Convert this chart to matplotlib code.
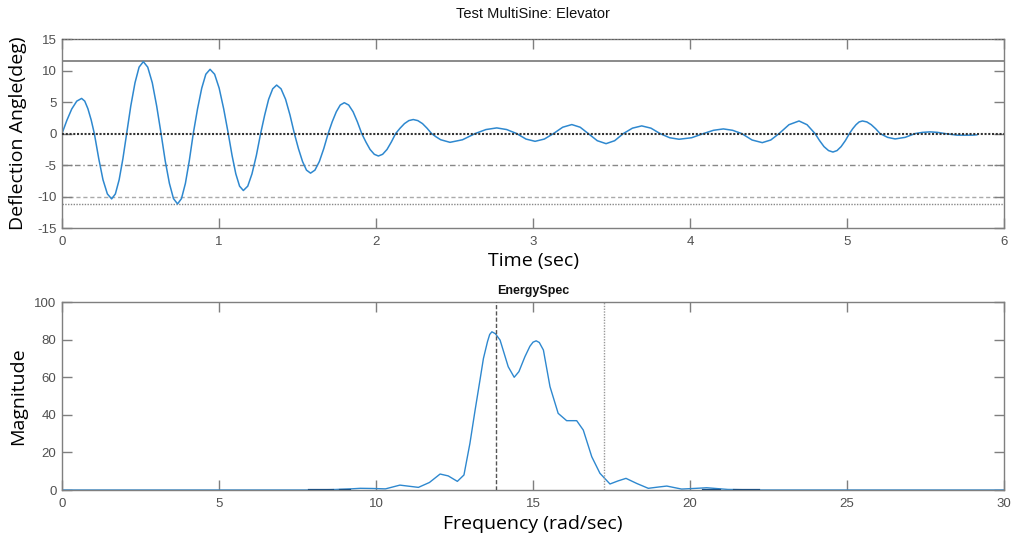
import matplotlib
matplotlib.use("Agg")
import matplotlib.pyplot as plt
import numpy as np

plt.rcParams['axes.unicode_minus'] = False

# ---- time signal (deg) ----
t_sig = [0.000, 0.031, 0.062, 0.094, 0.125, 0.145, 0.165, 0.186, 0.206,
         0.234, 0.261, 0.289, 0.316, 0.340, 0.364, 0.388, 0.412,
         0.438, 0.465, 0.491, 0.518, 0.546, 0.575, 0.603, 0.631,
         0.657, 0.684, 0.710, 0.736, 0.761, 0.786, 0.811, 0.836,
         0.863, 0.890, 0.916, 0.943, 0.972, 1.001, 1.030, 1.059,
         1.083, 1.107, 1.131, 1.155, 1.183, 1.210, 1.238, 1.265,
         1.291, 1.316, 1.342, 1.367, 1.395, 1.424, 1.452, 1.480,
         1.506, 1.532, 1.557, 1.583, 1.611, 1.639, 1.667, 1.695,
         1.721, 1.747, 1.772, 1.798, 1.826, 1.854, 1.881, 1.909,
         1.936, 1.962, 1.989, 2.015, 2.042, 2.070, 2.097, 2.125,
         2.153, 2.181, 2.209, 2.237, 2.266, 2.296, 2.325, 2.354,
         2.383, 2.412, 2.471, 2.551, 2.631,
         2.700, 2.769, 2.832, 2.896,
         2.955, 3.013, 3.072, 3.130,
         3.189, 3.247, 3.300, 3.352,
         3.409, 3.465, 3.520, 3.575,
         3.633, 3.692, 3.751, 3.809,
         3.870, 3.930, 4.010, 4.085,
         4.149, 4.212, 4.271, 4.329,
         4.395, 4.460, 4.514, 4.567,
         4.630, 4.694, 4.745, 4.796,
         4.825, 4.853, 4.882, 4.910, 4.936, 4.962, 4.989, 5.015,
         5.036, 5.057, 5.077, 5.098, 5.126, 5.154, 5.182, 5.210,
         5.258, 5.306, 5.370, 5.433,
         5.480, 5.529, 5.577, 5.624,
         5.700, 5.800, 5.826]
v_sig = [0.0, 2.1, 3.9, 5.15, 5.58, 5.15, 3.95, 2.15, 0.0,
         -3.97, -7.33, -9.58, -10.37, -9.58, -7.33, -3.97, 0.0,
         4.37, 8.07, 10.55, 11.42, 10.55, 8.07, 4.37, 0.0,
         -4.27, -7.9, -10.32, -11.17, -10.32, -7.9, -4.27, 0.0,
         3.9, 7.21, 9.42, 10.2, 9.42, 7.21, 3.9, 0.0,
         -3.46, -6.39, -8.35, -9.04, -8.35, -6.39, -3.46, 0.0,
         2.95, 5.44, 7.11, 7.7, 7.11, 5.44, 2.95, 0.0,
         -2.4, -4.44, -5.8, -6.28, -5.8, -4.44, -2.4, 0.0,
         1.88, 3.46, 4.53, 4.9, 4.53, 3.46, 1.88, 0.0,
         -1.36, -2.52, -3.29, -3.56, -3.29, -2.52, -1.36, 0.0,
         0.85, 1.58, 2.06, 2.23, 2.06, 1.58, 0.85, 0.0,
         -0.53, -0.98, -1.39, -0.98, 0.0,
         0.64, 0.9, 0.64, 0.0,
         -0.87, -1.23, -0.87, 0.0,
         1.01, 1.43, 1.01, 0.0,
         -1.13, -1.6, -1.13, 0.0,
         0.86, 1.22, 0.86, 0.0,
         -0.66, -0.9, -0.66, 0.0,
         0.52, 0.74, 0.52, 0.0,
         -1.02, -1.44, -1.02, 0.0,
         1.41, 2.0, 1.41, 0.0,
         -1.12, -2.07, -2.7, -2.93, -2.7, -2.07, -1.12, 0.0,
         0.77, 1.41, 1.85, 2.0, 1.85, 1.41, 0.77, 0.0,
         -0.6, -0.85, -0.6, 0.0,
         0.19, 0.27, 0.19, 0.0,
         -0.25, -0.25, -0.2]

# reference levels on the time plot
lvl_top = 15.0
lvl_max = 11.5
lvl_min = -11.2
lvl_mid = [-5.0, -10.0]

# ---- energy spectrum ----
f_spec = [0.0, 7.8, 8.6, 9.2, 9.5, 9.9, 10.3, 10.76, 11.35, 11.7, 12.04,
          12.3, 12.59, 12.8, 12.99, 13.15, 13.31, 13.42, 13.55, 13.62,
          13.69, 13.8, 13.95, 14.21, 14.4, 14.55, 14.74, 14.9, 15.0,
          15.1, 15.2, 15.33, 15.54, 15.8, 16.07, 16.39, 16.6, 16.87,
          17.13, 17.45, 17.7, 17.96, 18.3, 18.67, 19.0, 19.26, 19.73,
          20.1, 20.53, 21.2, 22.2, 30.0]
m_spec = [0.0, 0.0, 0.2, 0.6, 0.9, 0.8, 0.6, 2.6, 1.4, 4.0, 8.5,
          7.5, 4.6, 8.0, 24.8, 42.0, 58.5, 70.0, 79.0, 82.8,
          84.2, 83.2, 79.8, 65.6, 60.0, 63.0, 70.9, 76.5, 78.7,
          79.4, 78.5, 74.5, 55.0, 40.8, 36.9, 36.9, 31.9, 17.7,
          8.9, 3.2, 4.8, 6.2, 3.5, 0.9, 1.6, 2.1, 0.5,
          0.8, 1.2, 0.3, 0.0, 0.0]
dark_segs = [(7.87, 8.63), (8.85, 9.17), (20.4, 20.95), (21.4, 22.2)]
f_lo = 13.82
f_hi = 17.26

blue = '#2e88cf'
axgray = '#7f7f7f'
txtgray = '#505050'
label_font = ['Open Sans', 'DejaVu Sans']
tick_font = ['Liberation Sans', 'DejaVu Sans']

fig = plt.figure(figsize=(10.13, 5.43), dpi=100)
ax1 = fig.add_axes([0.0612, 0.580, 0.930, 0.348])
ax2 = fig.add_axes([0.0612, 0.0976, 0.930, 0.346])


def style(ax):
    for s in ax.spines.values():
        s.set_color(axgray)
        s.set_linewidth(1.0)
    ax.tick_params(direction='in', length=7, width=1.0, color=axgray,
                   top=True, right=True, labelcolor=txtgray, labelsize=9.5)
    ax.tick_params(axis='x', pad=6)
    ax.tick_params(axis='y', pad=4)
    for lab in ax.get_xticklabels() + ax.get_yticklabels():
        lab.set_family(tick_font)


# top plot: time history
ax1.axhline(lvl_top, color='#555555', lw=1.2, ls=(0, (1, 1)), zorder=3)
ax1.axhline(lvl_max, color='#777777', lw=1.2, zorder=1)
ax1.axhline(lvl_min, color='#888888', lw=1.0, ls=(0, (1, 1)), zorder=1)
ax1.axhline(lvl_mid[0], color='#888888', lw=1.0, ls=(0, (4, 2, 1, 2)), zorder=1)
ax1.axhline(lvl_mid[1], color='#aaaaaa', lw=1.0, ls=(0, (3, 2)), zorder=1)
ax1.plot(t_sig, v_sig, color=blue, lw=1.1, zorder=2)
ax1.axhline(0.0, color='#333333', lw=1.5, ls=(0, (1, 0.8)), zorder=3)
ax1.set_xlim(0, 6)
ax1.set_ylim(-15, 15)
ax1.set_xticks(range(0, 7))
ax1.set_yticks(range(-15, 16, 5))
style(ax1)
ax1.set_title('Test MultiSine: Elevator', family=tick_font, fontsize=10.5,
              color='#111111', pad=15)
ax1.set_xlabel('Time (sec)', family=label_font, fontsize=14)
ax1.set_ylabel('Deflection Angle(deg)', family=label_font, fontsize=14)
ax1.xaxis.set_label_coords(0.5, -0.125)
ax1.yaxis.set_label_coords(-0.037, 0.5)

# bottom plot: energy spectrum
ax2.plot(f_spec, m_spec, color=blue, lw=1.0, zorder=2)
for a, b in dark_segs:
    ax2.plot([a, b], [0, 0], color='#1d4f80', lw=1.6, zorder=3)
ax2.axvline(f_lo, color='#555555', lw=1.0, ls=(0, (3, 1.5)), zorder=3)
ax2.axvline(f_hi, color='#999999', lw=1.0, ls=(0, (1, 1)), zorder=3)
ax2.set_xlim(0, 30)
ax2.set_ylim(0, 100)
ax2.set_xticks(range(0, 31, 5))
ax2.set_yticks(range(0, 101, 20))
style(ax2)
ax2.set_title('EnergySpec', family=tick_font, fontsize=9, fontweight='bold',
              color='#111111', pad=6)
ax2.set_xlabel('Frequency (rad/sec)', family=label_font, fontsize=14)
ax2.set_ylabel('Magnitude', family=label_font, fontsize=14)
ax2.xaxis.set_label_coords(0.5, -0.135)
ax2.yaxis.set_label_coords(-0.037, 0.5)

fig.savefig('out.png', dpi=100)
